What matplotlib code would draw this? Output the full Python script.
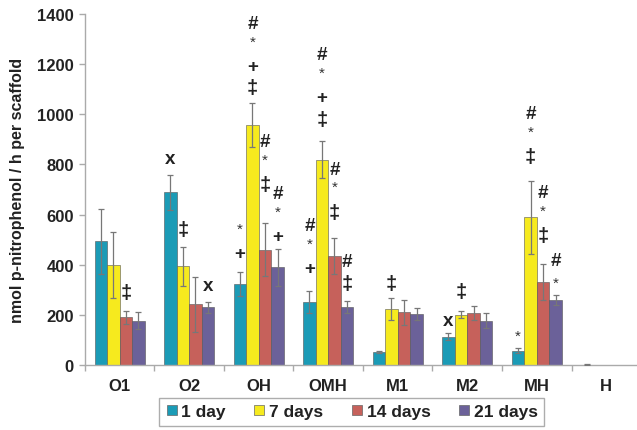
import numpy as np
import matplotlib
matplotlib.use("Agg")
import matplotlib.pyplot as plt
from matplotlib.lines import Line2D

plt.rcParams['font.family'] = ['Liberation Sans', 'DejaVu Sans']

groups = ["O1", "O2", "OH", "OMH", "M1", "M2", "MH", "H"]
series = ["1 day", "7 days", "14 days", "21 days"]
colors = ["#1b9bb6", "#f6ea1e", "#c6615b", "#6b6199"]

day1 = [493, 689, 323, 253, 51, 113, 57, 2]
day7 = [399, 394, 957, 818, 223, 201, 589, 0]
day14 = [190, 243, 460, 434, 210, 207, 332, 0]
day21 = [177, 230, 390, 233, 203, 177, 260, 0]

err1 = [130, 70, 47, 44, 5, 13, 9, 2]
err7 = [130, 78, 87, 74, 44, 13, 146, 0]
err14 = [27, 110, 105, 71, 51, 27, 71, 0]
err21 = [35, 22, 73, 24, 23, 30, 19, 0]

# significance marks: (group, series, symbols from top to bottom, y of lowest line)
marks = [
    (0, 2, "‡", 291),
    (1, 0, "x", 822),
    (1, 1, "‡", 542),
    (1, 3, "x", 319),
    (2, 0, "*+", 443),
    (2, 1, "#*+‡", 1105),
    (2, 2, "#*‡", 718),
    (2, 3, "#*+", 511),
    (3, 0, "#*+", 383),
    (3, 1, "#*+‡", 981),
    (3, 2, "#*‡", 610),
    (3, 3, "#‡", 327),
    (4, 1, "‡", 327),
    (5, 0, "x", 176),
    (5, 1, "‡", 295),
    (6, 0, "*", 118),
    (6, 1, "#*‡", 830),
    (6, 2, "#*‡", 515),
    (6, 3, "#*", 329),
]

values = [day1, day7, day14, day21]
errors = [err1, err7, err14, err21]

fig = plt.figure(figsize=(6.37, 4.31), dpi=100)
ax = fig.add_axes([0.1334, 0.1508, 0.8729, 0.8144])

x = np.arange(len(groups))
width = 0.18
offsets = (np.arange(4) - 1.5) * width

for i in range(4):
    ax.bar(x + offsets[i], values[i], width, color=colors[i],
           edgecolor="#555555", linewidth=0.4, zorder=2)
    err = np.array(errors[i])
    keep = err > 0
    ax.errorbar((x + offsets[i])[keep], np.array(values[i])[keep],
                yerr=err[keep], fmt="none", ecolor="#777777",
                elinewidth=0.9, capsize=2.2, capthick=0.9, zorder=3)

step = 15.5  # points between stacked symbols
for g, s, syms, ybase in marks:
    xpos = x[g] + offsets[s]
    for k, sym in enumerate(reversed(syms)):
        dy = k * step
        if sym == "*":
            dy += 2.5 if k > 0 else 0
            ax.annotate(sym, (xpos, ybase), xytext=(0, dy),
                        textcoords="offset points", ha="center", va="center",
                        fontsize=11, color="#333333", zorder=4)
        else:
            size = 14.5 if sym == "‡" else 13.5
            ax.annotate(sym, (xpos, ybase), xytext=(0, dy),
                        textcoords="offset points", ha="center", va="center",
                        fontsize=size, fontweight="bold", color="#222222",
                        zorder=4)

ax.set_xlim(-0.5, len(groups) - 0.5)
ax.set_ylim(0, 1400)
ax.set_yticks(np.arange(0, 1401, 200))
ax.set_xticks(x)
ax.set_xticklabels(groups)
ax.set_xticks(np.arange(len(groups)) - 0.5, minor=True)

for side in ["top", "right"]:
    ax.spines[side].set_visible(False)
for side in ["left", "bottom"]:
    ax.spines[side].set_color("#aaaaaa")
    ax.spines[side].set_linewidth(1.0)

ax.tick_params(axis="y", colors="#aaaaaa", length=4, width=1.0, labelsize=12,
               labelcolor="#222222", pad=4)
ax.tick_params(axis="x", which="major", length=0, labelsize=12,
               labelcolor="#222222", pad=9)
ax.tick_params(axis="x", which="minor", length=4, width=1.0, colors="#aaaaaa")
for lbl in ax.get_xticklabels() + ax.get_yticklabels():
    lbl.set_fontweight("bold")

ax.set_ylabel("nmol p-nitrophenol / h per scaffold", fontsize=11.5,
              fontweight="bold", color="#222222", labelpad=9)

handles = [Line2D([], [], marker="s", linestyle="none", markersize=6.5,
                  markerfacecolor=c, markeredgecolor="#666666",
                  markeredgewidth=0.5) for c in colors]
leg = fig.legend(handles, series, loc="center", bbox_to_anchor=(0.552, 0.042),
                 ncol=4, frameon=True, fancybox=False, handlelength=0.7,
                 handletextpad=0.2, columnspacing=1.6, borderpad=0.35,
                 borderaxespad=0.0, prop={"size": 12.5, "weight": "bold"})
leg.get_frame().set_edgecolor("#999999")
leg.get_frame().set_linewidth(1.0)
for t in leg.get_texts():
    t.set_color("#222222")

fig.savefig("out.png", dpi=100)
